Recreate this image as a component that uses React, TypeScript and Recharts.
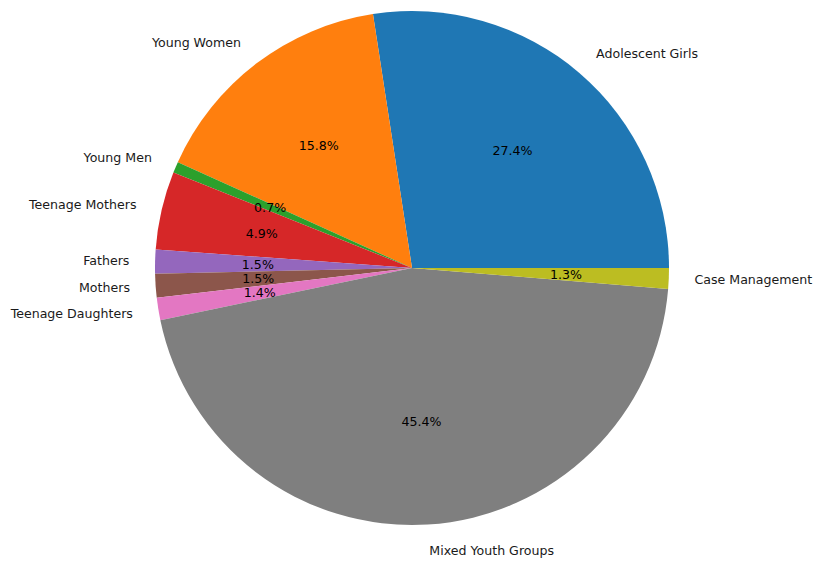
import { PieChart, Pie, Cell } from "recharts";

const groups = [
  "Adolescent Girls",
  "Young Women",
  "Young Men",
  "Teenage Mothers",
  "Fathers",
  "Mothers",
  "Teenage Daughters",
  "Mixed Youth Groups",
  "Case Management",
];
const shares = [27.4, 15.8, 0.7, 4.9, 1.5, 1.5, 1.4, 45.4, 1.3];
const colors = ["#1f77b4", "#ff7f0e", "#2ca02c", "#d62728", "#9467bd", "#8c564b", "#e377c2", "#7f7f7f", "#bcbd22"];

const data = groups.map((name, i) => ({ name, value: shares[i] }));

const RADIAN = Math.PI / 180;
const font = "DejaVu Sans, sans-serif";

function renderLabel(props: any) {
  const { cx, cy, midAngle, outerRadius, name, value } = props;
  const cos = Math.cos(-midAngle * RADIAN);
  const sin = Math.sin(-midAngle * RADIAN);
  const ox = cx + outerRadius * 1.1 * cos;
  const oy = cy + outerRadius * 1.1 * sin;
  const px = cx + outerRadius * 0.6 * cos;
  const py = cy + outerRadius * 0.6 * sin;
  return (
    <g>
      <text x={ox} y={oy} textAnchor={cos >= 0 ? "start" : "end"} dominantBaseline="central"
        fill="#1a1a1a" fontSize={12.6} fontFamily={font}>
        {name}
      </text>
      <text x={px} y={py} textAnchor="middle" dominantBaseline="central"
        fill="#000" fontSize={12.6} fontFamily={font}>
        {value.toFixed(1)}%
      </text>
    </g>
  );
}

export default function App() {
  return (
    <div style={{ position: "absolute", left: 0, top: 0, width: 816, height: 561, background: "#fff" }}>
      <PieChart width={816} height={561} style={{ overflow: "visible" }}>
        <Pie
          data={data}
          dataKey="value"
          nameKey="name"
          cx={407}
          cy={263}
          outerRadius={257}
          startAngle={0}
          endAngle={360}
          stroke="none"
          label={renderLabel}
          labelLine={false}
          isAnimationActive={false}
        >
          {data.map((d, i) => (
            <Cell key={d.name} fill={colors[i]} />
          ))}
        </Pie>
      </PieChart>
    </div>
  );
}
